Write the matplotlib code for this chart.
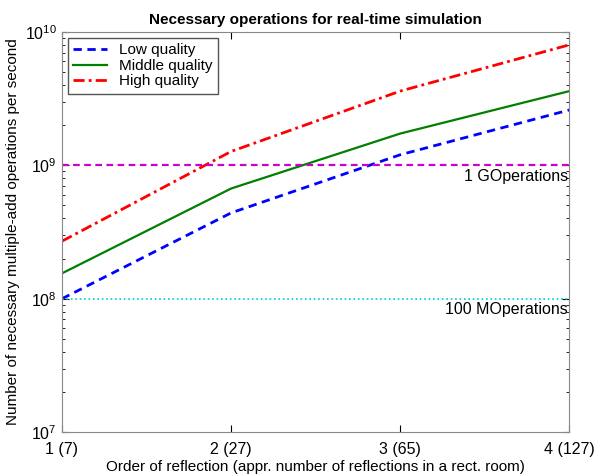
import numpy as np
import matplotlib.pyplot as plt
from matplotlib.ticker import LogLocator, NullFormatter

plt.rcParams['font.family'] = ['Liberation Sans', 'DejaVu Sans']

order = [1, 2, 3, 4]
tick_labels = ["1 (7)", "2 (27)", "3 (65)", "4 (127)"]
low_q = [1.0e8, 4.4e8, 1.2e9, 2.6e9]
mid_q = [1.55e8, 6.7e8, 1.73e9, 3.6e9]
high_q = [2.7e8, 1.27e9, 3.6e9, 8.0e9]
giga = 1e9
mega100 = 1e8

fig = plt.figure(figsize=(6.07, 4.76), dpi=100)
ax = fig.add_axes([0.102, 0.092, 0.836, 0.841])

ax.plot(order, low_q, color="#0000ff", ls=(0, (3, 2)), lw=2, label="Low quality")
ax.plot(order, mid_q, color="#008000", ls="-", lw=1.6, label="Middle quality")
ax.plot(order, high_q, color="#ff0000", ls=(0, (4, 1.5, 1, 1.5)), lw=2, label="High quality")
ax.axhline(giga, color="#cc00cc", ls=(0, (3, 2)), lw=1.6)
ax.axhline(mega100, color="#00cccc", ls=":", lw=1.2)

ax.text(3.99, giga * 0.94, "1 GOperations", ha="right", va="top", fontsize=11.5)
ax.text(3.99, mega100 * 0.94, "100 MOperations", ha="right", va="top", fontsize=11.5)

ax.set_yscale("log")
ax.set_xlim(1, 4)
ax.set_ylim(1e7, 1e10)
ax.set_xticks(order)
ax.set_xticklabels(tick_labels, fontsize=11.5)
ax.yaxis.set_major_locator(LogLocator(base=10, numticks=10))
ax.yaxis.set_minor_locator(LogLocator(base=10, subs=np.arange(2, 10), numticks=10))
ax.yaxis.set_minor_formatter(NullFormatter())
ax.tick_params(axis="both", which="both", direction="in", top=True, right=True, labelsize=11.5)
ax.tick_params(axis="x", pad=7)
ax.tick_params(which="major", length=5)
ax.tick_params(which="minor", length=2.5)
for s in ax.spines.values():
    s.set_color("#888888")

ax.set_title("Necessary operations for real-time simulation", fontsize=11, fontweight="bold")
ax.set_xlabel("Order of reflection (appr. number of reflections in a rect. room)", fontsize=11, labelpad=2)
ax.set_ylabel("Number of necessary multiple-add operations per second", fontsize=11)

leg = ax.legend(loc="upper left", fontsize=11, fancybox=False, framealpha=1,
                borderaxespad=0.4, handlelength=2.2, labelspacing=0.1, borderpad=0.35)
leg.get_frame().set_edgecolor("#555555")

fig.savefig("out.png", dpi=100)
